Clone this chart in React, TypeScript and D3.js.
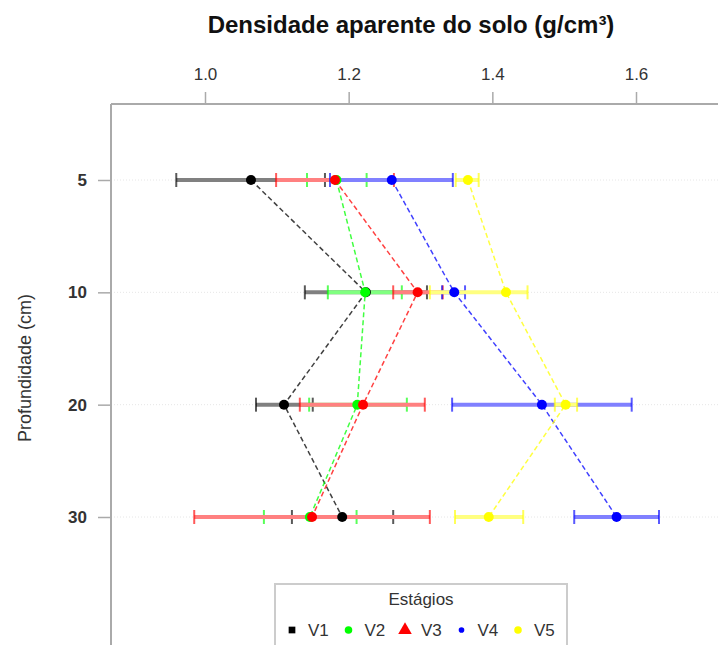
import React, { useRef, useEffect } from 'react';
import * as d3 from 'd3';

const depths = ['5', '10', '20', '30'];
const stages = ['V1', 'V2', 'V3', 'V4', 'V5'];
const stageColors = ['#000000', '#00ff00', '#ff0000', '#0000ff', '#ffff00'];
const xTicks = [1.0, 1.2, 1.4, 1.6];

const v1Mean = [1.064, 1.224, 1.110, 1.191];
const v1Lo = [0.960, 1.139, 1.071, 1.121];
const v1Hi = [1.167, 1.309, 1.150, 1.262];

const v2Mean = [1.183, 1.223, 1.212, 1.146];
const v2Lo = [1.142, 1.171, 1.145, 1.082];
const v2Hi = [1.225, 1.274, 1.281, 1.211];

const v3Mean = [1.181, 1.296, 1.220, 1.149];
const v3Lo = [1.099, 1.262, 1.132, 0.985];
const v3Hi = [1.263, 1.331, 1.306, 1.313];

const v4Mean = [1.260, 1.347, 1.469, 1.573];
const v4Lo = [1.174, 1.330, 1.344, 1.514];
const v4Hi = [1.345, 1.362, 1.594, 1.632];

const v5Mean = [1.366, 1.419, 1.502, 1.395];
const v5Lo = [1.349, 1.313, 1.487, 1.348];
const v5Hi = [1.381, 1.449, 1.518, 1.443];

const means = [v1Mean, v2Mean, v3Mean, v4Mean, v5Mean];
const los = [v1Lo, v2Lo, v3Lo, v4Lo, v5Lo];
const his = [v1Hi, v2Hi, v3Hi, v4Hi, v5Hi];

function Chart() {
  const ref = useRef(null);

  useEffect(() => {
    const W = 718, H = 645;
    const left = 111, top = 104;
    const font = 'Liberation Sans, Arial, sans-serif';

    const root = d3.select(ref.current);
    root.selectAll('*').remove();
    const svg = root.append('svg')
      .attr('width', W)
      .attr('height', H)
      .style('position', 'absolute')
      .style('left', 0)
      .style('top', 0)
      .style('background', '#fff');

    const x = d3.scaleLinear().domain([1.0, 1.6]).range([205, 636]);
    const y = d3.scalePoint().domain(depths).range([180, 517]);

    // grid
    svg.append('g').selectAll('line').data(depths).enter().append('line')
      .attr('x1', left).attr('x2', W)
      .attr('y1', (d) => y(d)).attr('y2', (d) => y(d))
      .attr('stroke', '#e6e6e6').attr('stroke-width', 1)
      .attr('stroke-dasharray', '1,2');

    // axes frame
    svg.append('line').attr('x1', left).attr('x2', W).attr('y1', top).attr('y2', top)
      .attr('stroke', '#aaa').attr('stroke-width', 2);
    svg.append('line').attr('x1', left).attr('x2', left).attr('y1', top).attr('y2', H)
      .attr('stroke', '#aaa').attr('stroke-width', 2);

    const xAxis = svg.append('g')
      .attr('transform', `translate(0,${top})`)
      .call(d3.axisTop(x).tickValues(xTicks).tickSize(12).tickPadding(12).tickFormat(d3.format('.1f')));
    xAxis.select('.domain').remove();
    xAxis.selectAll('line').attr('stroke', '#aaa').attr('stroke-width', 1.5);
    xAxis.selectAll('text').attr('font-family', font).attr('font-size', 17).attr('fill', '#333');

    const yAxis = svg.append('g')
      .attr('transform', `translate(${left},0)`)
      .call(d3.axisLeft(y).tickSize(13).tickPadding(11));
    yAxis.select('.domain').remove();
    yAxis.selectAll('line').attr('stroke', '#aaa').attr('stroke-width', 1.5);
    yAxis.selectAll('text').attr('font-family', font).attr('font-size', 17)
      .attr('font-weight', 'bold').attr('fill', '#333');

    // titles
    svg.append('text').attr('x', 411).attr('y', 33).attr('text-anchor', 'middle')
      .attr('font-family', font).attr('font-size', 24).attr('font-weight', 'bold')
      .attr('fill', '#111').text('Densidade aparente do solo (g/cm³)');
    svg.append('text').attr('transform', 'translate(31,368) rotate(-90)')
      .attr('text-anchor', 'middle').attr('font-family', font).attr('font-size', 18)
      .attr('fill', '#333').text('Profundidade (cm)');

    // error bars: opaque light bars, later series on top
    stages.forEach((s, i) => {
      const g = svg.append('g');
      const light = d3.interpolateRgb(stageColors[i], '#ffffff')(0.5);
      const rows = depths.map((d, j) => ({ d, lo: los[i][j], hi: his[i][j] }));
      g.selectAll('.bar').data(rows).enter().append('line')
        .attr('x1', (r) => x(r.lo)).attr('x2', (r) => x(r.hi))
        .attr('y1', (r) => y(r.d)).attr('y2', (r) => y(r.d))
        .attr('stroke', light).attr('stroke-width', 4);
      ['lo', 'hi'].forEach((k) => {
        g.selectAll('.cap' + k).data(rows).enter().append('line')
          .attr('x1', (r) => x(r[k])).attr('x2', (r) => x(r[k]))
          .attr('y1', (r) => y(r.d) - 7).attr('y2', (r) => y(r.d) + 7)
          .attr('stroke', stageColors[i]).attr('stroke-width', 2).attr('stroke-opacity', 0.65);
      });
    });

    // dashed lines
    const line = d3.line().x((p) => x(p[1])).y((p) => y(p[0]));
    stages.forEach((s, i) => {
      svg.append('path')
        .datum(depths.map((d, j) => [d, means[i][j]]))
        .attr('d', line)
        .attr('fill', 'none').attr('stroke', stageColors[i]).attr('stroke-width', 1.5)
        .attr('stroke-opacity', 0.75).attr('stroke-dasharray', '5,3');
    });

    // points
    stages.forEach((s, i) => {
      svg.append('g').selectAll('circle').data(depths).enter().append('circle')
        .attr('cx', (d, j) => x(means[i][j])).attr('cy', (d) => y(d))
        .attr('r', 5).attr('fill', stageColors[i]);
    });

    // legend
    const lg = svg.append('g');
    lg.append('rect').attr('x', 275).attr('y', 584).attr('width', 292).attr('height', 80)
      .attr('fill', '#fff').attr('stroke', '#ccc').attr('stroke-width', 2);
    lg.append('text').attr('x', 421).attr('y', 605).attr('text-anchor', 'middle')
      .attr('font-family', font).attr('font-size', 17).attr('fill', '#333').text('Estágios');
    const lx = d3.scalePoint().domain(stages).range([292, 518]);
    const ly = 630;
    const sym = [d3.symbolSquare, d3.symbolCircle, d3.symbolTriangle, d3.symbolCircle, d3.symbolCircle];
    const symSize = [45, 45, 80, 25, 45];
    stages.forEach((s, i) => {
      lg.append('path')
        .attr('d', d3.symbol().type(sym[i]).size(symSize[i])())
        .attr('transform', `translate(${lx(s)},${ly})`)
        .attr('fill', stageColors[i]);
      lg.append('text').attr('x', lx(s) + 16).attr('y', ly + 6)
        .attr('font-family', font).attr('font-size', 17).attr('fill', '#333').text(s);
    });
  }, []);

  return <div ref={ref} id="chart"></div>;
}

export default function App() {
  return <Chart />;
}
